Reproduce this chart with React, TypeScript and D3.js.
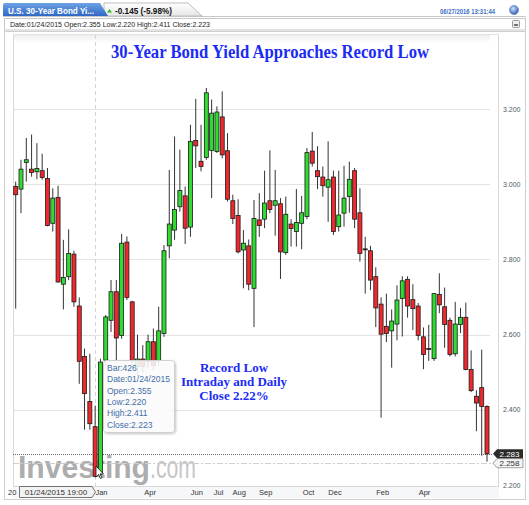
import React from "react";
import * as d3 from "d3";

const opens = [2.994,2.987,3.058,3.040,3.033,3.036,3.015,2.896,2.965,2.734,2.754,2.814,2.676,2.542,2.422,2.355,2.229,2.532,2.638,2.714,2.598,2.846,2.687,2.515,2.535,2.528,2.581,2.530,2.603,2.836,2.878,2.940,2.969,2.886,3.116,3.061,3.071,3.090,3.087,3.179,3.089,2.956,2.917,2.825,2.836,2.723,2.905,2.907,2.956,2.944,2.948,2.818,2.894,2.874,2.896,2.914,3.088,3.036,3.019,2.992,3.019,2.887,2.923,2.967,3.036,2.924,2.828,2.823,2.754,2.681,2.622,2.610,2.628,2.696,2.747,2.693,2.676,2.594,2.563,2.536,2.707,2.674,2.638,2.549,2.627,2.646,2.507,2.436,2.459,2.409];
const highs = [3.007,3.065,3.123,3.132,3.109,3.081,3.043,2.989,2.996,2.852,2.880,2.823,2.699,2.563,2.549,2.411,2.536,2.652,2.745,2.745,2.868,2.861,2.690,2.600,2.572,2.600,2.616,2.674,2.838,3.038,3.127,3.092,2.994,3.158,3.227,3.158,3.256,3.225,3.207,3.247,3.136,2.972,2.960,2.878,2.853,2.958,2.976,3.036,3.090,3.038,2.963,2.967,2.907,2.987,2.969,3.096,3.139,3.101,3.047,3.114,3.036,3.036,3.049,3.060,3.043,2.989,2.860,2.836,2.779,2.699,2.709,2.667,2.731,2.755,2.755,2.734,2.684,2.619,2.626,2.710,2.763,2.725,2.645,2.687,2.671,2.685,2.558,2.452,2.560,2.412];
const lows = [2.669,2.923,3.007,3.020,3.013,3.012,2.888,2.874,2.738,2.667,2.745,2.674,2.469,2.347,2.347,2.220,2.221,2.520,2.607,2.532,2.589,2.692,2.510,2.490,2.500,2.510,2.505,2.520,2.594,2.803,2.852,2.927,2.841,2.860,3.043,3.034,3.065,2.963,3.083,3.069,2.954,2.894,2.816,2.723,2.718,2.620,2.860,2.883,2.923,2.863,2.748,2.812,2.834,2.834,2.827,2.907,3.047,2.987,2.967,2.900,2.865,2.874,2.887,2.924,2.883,2.794,2.709,2.718,2.620,2.379,2.580,2.512,2.585,2.595,2.645,2.612,2.585,2.508,2.530,2.530,2.657,2.565,2.542,2.542,2.604,2.505,2.447,2.343,2.278,2.262];
const closes = [2.972,3.040,3.065,3.031,3.042,3.018,2.890,2.963,2.740,2.752,2.816,2.687,2.529,2.443,2.363,2.223,2.527,2.647,2.714,2.591,2.843,2.699,2.530,2.535,2.515,2.581,2.518,2.610,2.823,2.894,2.933,2.983,2.883,3.114,3.102,3.047,3.243,3.189,3.192,3.078,2.960,2.909,2.820,2.843,2.734,2.909,2.890,2.950,2.933,2.956,2.820,2.920,2.882,2.898,2.924,3.084,3.056,3.020,2.996,3.012,2.874,2.918,2.963,3.013,2.907,2.816,2.826,2.745,2.671,2.601,2.603,2.636,2.692,2.743,2.676,2.669,2.598,2.547,2.562,2.709,2.679,2.627,2.547,2.628,2.646,2.507,2.451,2.418,2.409,2.283];

const yTicks = [3.2, 3.0, 2.8, 2.6, 2.4, 2.2];
const xLabels = ["Jan", "Apr", "Jun", "Jul", "Aug", "Sep", "Oct", "Dec", "Feb", "Apr"];
const xLabelIdx = [16.2, 25.4, 34.2, 38.3, 42.2, 47.2, 55.3, 60.3, 69.3, 77.2];
const tooltipLines = ["Bar:426", "Date:01/24/2015", "Open:2.355", "Low:2.220", "High:2.411", "Close:2.223"];
const annotationLines = ["Record Low", "Intraday and Daily", "Close 2.22%"];
const lastClose = 2.283;
const lastLow = 2.258;

const W = 529, H = 505;
const L = 13, R = 490, T = 35, B = 486;

export default function App() {
  const n = opens.length;
  const x = d3.scaleLinear().domain([0, n - 1]).range([15.7, 487]);
  const y = d3.scaleLinear().domain([2.2, 3.2]).range([485, 109]);
  const bw = 4;
  const sans = "'Liberation Sans', Arial, sans-serif";
  const serif = "'Liberation Serif', 'Times New Roman', serif";
  const candles = d3.range(n).map(i => ({ i, o: opens[i], h: highs[i], l: lows[i], c: closes[i] }));
  return (
    <svg width={W} height={H} style={{ position: "absolute", left: 0, top: 0, background: "#fff" }} xmlns="http://www.w3.org/2000/svg">
      <defs>
        <linearGradient id="tabBlue" x1="0" y1="0" x2="0" y2="1">
          <stop offset="0" stopColor="#6fa3e6" />
          <stop offset="1" stopColor="#2f68c4" />
        </linearGradient>
        <linearGradient id="tabGrey" x1="0" y1="0" x2="0" y2="1">
          <stop offset="0" stopColor="#ffffff" />
          <stop offset="1" stopColor="#e6e6e6" />
        </linearGradient>
        <radialGradient id="globe" cx="0.4" cy="0.35" r="0.7">
          <stop offset="0" stopColor="#cfe0ff" />
          <stop offset="1" stopColor="#2a5db0" />
        </radialGradient>
        <linearGradient id="topShade" x1="0" y1="0" x2="0" y2="1">
          <stop offset="0" stopColor="#eeeeee" />
          <stop offset="1" stopColor="#ffffff" />
        </linearGradient>
        <filter id="shadow" x="-20%" y="-20%" width="140%" height="140%">
          <feDropShadow dx="1" dy="1" stdDeviation="1.2" floodColor="#000" floodOpacity="0.25" />
        </filter>
      </defs>

      {/* header */}
      <line x1={3} x2={526} y1={16.5} y2={16.5} stroke="#c8c8c8" />
      <path d="M104,16 L104,3 L188,3 L202,16 Z" fill="url(#tabGrey)" stroke="#bdbdbd" />
      <path d="M3,16 L3,5 Q3,3 5,3 L100,3 L108,16 Z" fill="url(#tabBlue)" />
      <text x={8} y={13.5} fontFamily={sans} fontWeight="bold" fontSize={9} fill="#fff" textLength={86} lengthAdjust="spacingAndGlyphs">U.S. 30-Year Bond Yi...</text>
      <path d="M107,12.5 L109.5,9 L112,12.5 Z" fill="#2bb52b" />
      <text x={115} y={13.5} fontFamily={sans} fontWeight="bold" fontSize={9.5} fill="#111" textLength={57} lengthAdjust="spacingAndGlyphs">-0.145 (-5.98%)</text>
      <text x={440} y={13.5} fontFamily={sans} fontWeight="bold" fontSize={7.5} fill="#3a6fc4" textLength={55} lengthAdjust="spacingAndGlyphs">06/27/2016 13:31:44</text>
      <circle cx={514} cy={10} r={4.5} fill="url(#globe)" stroke="#4a6fa8" strokeWidth={0.6} />

      {/* info bar */}
      <rect x={4.5} y={18.5} width={521} height={11.5} fill="#fff" stroke="#c8c8c8" />
      <text x={10} y={26.8} fontFamily={sans} fontSize={7} fill="#222" textLength={200} lengthAdjust="spacingAndGlyphs">Date:01/24/2015 Open:2.355 Low:2.220 High:2.411 Close:2.223</text>
      <rect x={512.5} y={20.5} width={7} height={7} rx={1} fill="#eee" stroke="#777" strokeWidth={0.7} />
      <line x1={514} x2={518} y1={25} y2={25} stroke="#222" strokeWidth={1.2} />

      {/* chart frame */}
      <rect x={4.5} y={31.5} width={521} height={468} fill="#fff" stroke="#cfcfcf" />
      <rect x={L} y={T} width={R - L} height={8} fill="url(#topShade)" />
      <line x1={L + 0.5} x2={L + 0.5} y1={T} y2={B + 12} stroke="#d8d8d8" />
      <line x1={L} x2={R + 9} y1={T - 0.5} y2={T - 0.5} stroke="#e2e2e2" />
      <line x1={498.5} x2={498.5} y1={T} y2={B + 12} stroke="#d8d8d8" />

      {/* grid */}
      {yTicks.slice(0, 5).map(t => (
        <line key={t} x1={L} x2={R} y1={Math.round(y(t)) + 0.5} y2={Math.round(y(t)) + 0.5} stroke="#e3e3e3" />
      ))}
      {yTicks.map(t => (
        <text key={"l" + t} x={503} y={y(t) + 2.5} fontFamily={sans} fontSize={7} fill="#4d5a66">{t.toFixed(3)}</text>
      ))}

      {/* crosshair vertical */}
      <line x1={95.5} x2={95.5} y1={T} y2={B} stroke="#d4d4d4" strokeDasharray="4,3" />

      {/* watermark */}
      <text x={18} y={478} fontFamily={sans} fontWeight="bold" fontSize={31} fill="#adadad" textLength={132} lengthAdjust="spacingAndGlyphs">Investing</text>
      <text x={150} y={478} fontFamily={sans} fontSize={31} fill="#c6c6c6" textLength={46} lengthAdjust="spacingAndGlyphs">.com</text>

      {/* price lines */}
      <line x1={L} x2={493} y1={Math.round(y(lastClose)) + 0.5} y2={Math.round(y(lastClose)) + 0.5} stroke="#666" strokeDasharray="1,1" />
      <line x1={L} x2={493} y1={Math.round(y(lastLow)) + 0.5} y2={Math.round(y(lastLow)) + 0.5} stroke="#cfcfcf" strokeDasharray="6,2,2,2" />

      {/* candles */}
      {candles.map(d => {
        const up = d.c >= d.o;
        const top = y(Math.max(d.o, d.c));
        const bot = y(Math.min(d.o, d.c));
        const cx = x(d.i);
        return (
          <g key={d.i}>
            <line x1={cx} x2={cx} y1={y(d.h)} y2={y(d.l)} stroke="#333" strokeWidth={1} />
            <rect x={cx - bw / 2} y={top} width={bw} height={Math.max(1, bot - top)} fill={up ? "#2fdc2f" : "#f0282d"} stroke="#1a1a1a" strokeWidth={0.8} />
          </g>
        );
      })}

      {/* tooltip */}
      <rect x={103.5} y={360.5} width={71} height={72} rx={3} fill="#fff" fillOpacity={0.85} stroke="#d0d0d0" filter="url(#shadow)" />
      {tooltipLines.map((t, i) => (
        <text key={t} x={107} y={371 + i * 11.3} fontFamily={sans} fontSize={8.5} fill="#3f6ea8">{t}</text>
      ))}

      {/* annotations */}
      <text x={270} y={58} textAnchor="middle" fontFamily={serif} fontWeight="bold" fontSize={18} fill="#1b2cf5" textLength={318} lengthAdjust="spacingAndGlyphs">30-Year Bond Yield Approaches Record Low</text>
      {annotationLines.map((t, i) => (
        <text key={t} x={234} y={372 + i * 14} textAnchor="middle" fontFamily={serif} fontWeight="bold" fontSize={13} fill="#1b2cf5">{t}</text>
      ))}

      {/* cursor */}
      <path d="M96,466 L96,477 L98.5,474.5 L100.5,478.5 L102,477.8 L100,474 L103.5,474 Z" fill="#fff" stroke="#111" strokeWidth={0.8} />

      {/* x axis band */}
      <rect x={L} y={B} width={R - L + 9} height={12} fill="#f6f7f9" />
      <line x1={L} x2={R + 9} y1={B + 0.5} y2={B + 0.5} stroke="#d8d8d8" />
      <text x={8} y={494.5} fontFamily={sans} fontSize={7.5} fill="#333">20</text>
      {xLabels.map((t, i) => (
        <text key={t + i} x={x(xLabelIdx[i])} y={494.5} textAnchor="middle" fontFamily={sans} fontSize={7.5} fill="#333">{t}</text>
      ))}
      <path d="M19.5,486.5 L92,486.5 L95.5,492 L92,497.5 L19.5,497.5 Z" fill="#f2f2f2" stroke="#555" strokeWidth={0.8} />
      <text x={56} y={494.8} textAnchor="middle" fontFamily={sans} fontSize={8} fill="#333">01/24/2015 19:00</text>

      {/* price tags */}
      <path d={`M493,${y(lastLow)} L497,${y(lastLow) - 4.5} L523,${y(lastLow) - 4.5} L523,${y(lastLow) + 4.5} L497,${y(lastLow) + 4.5} Z`} fill="#f4f4f4" stroke="#777" strokeWidth={0.7} />
      <text x={509.5} y={y(lastLow) + 3} textAnchor="middle" fontFamily={sans} fontSize={8} fill="#333">2.258</text>
      <path d={`M493,${y(lastClose)} L497,${y(lastClose) - 4.5} L523,${y(lastClose) - 4.5} L523,${y(lastClose) + 4.5} L497,${y(lastClose) + 4.5} Z`} fill="#2b2b2b" />
      <text x={509.5} y={y(lastClose) + 3} textAnchor="middle" fontFamily={sans} fontSize={8} fill="#fff">2.283</text>
    </svg>
  );
}
